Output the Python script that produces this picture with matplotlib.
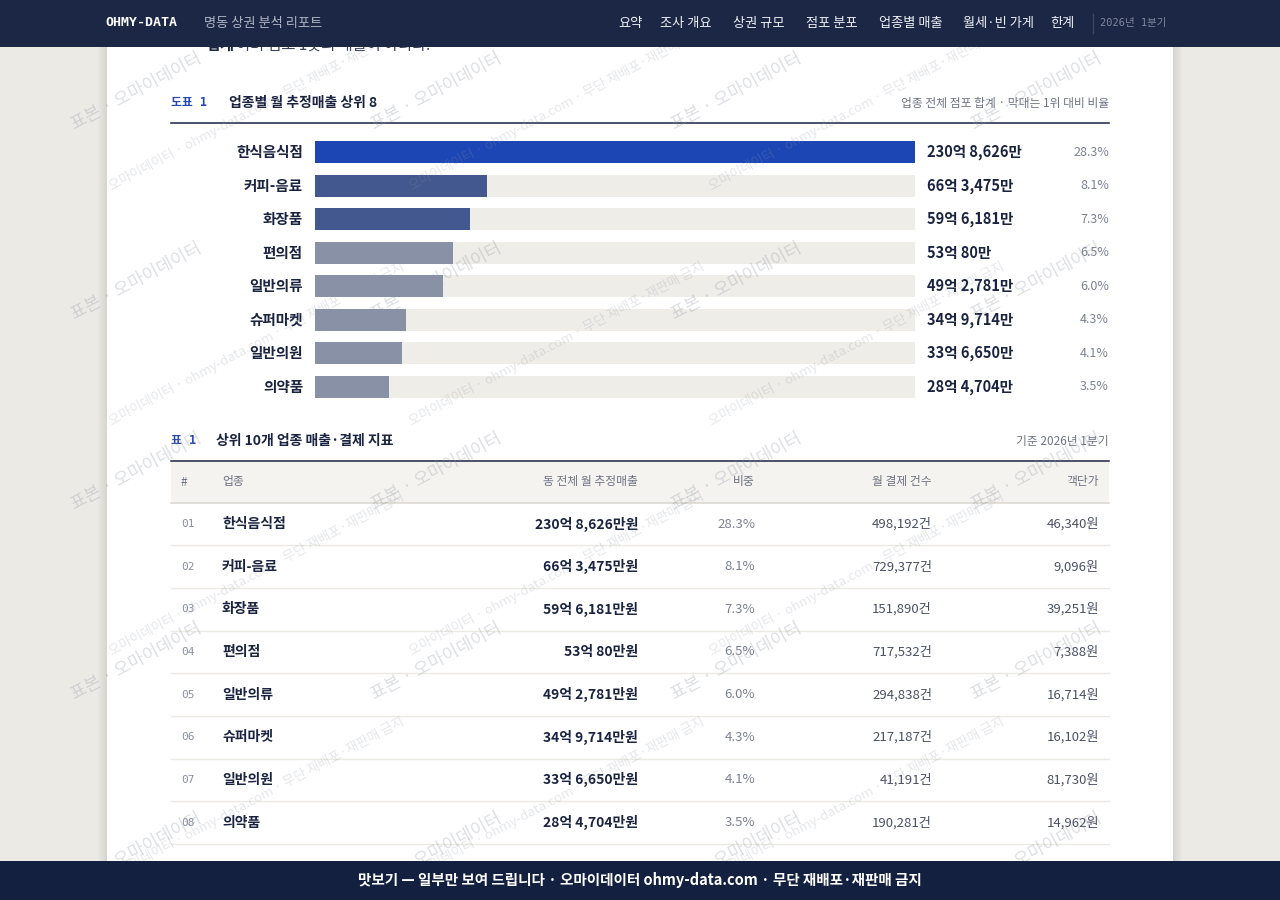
import matplotlib
matplotlib.use('Agg')
import matplotlib.pyplot as plt
from matplotlib.patches import Rectangle

plt.rcParams['font.family'] = ['Noto Sans CJK KR', 'DejaVu Sans']
MONO = ['DejaVu Sans Mono', 'Noto Sans CJK KR']

# 데이터
categories = ['한식음식점', '커피-음료', '화장품', '편의점', '일반의류', '슈퍼마켓', '일반의원', '의약품']
sales_eok = [230.8626, 66.3475, 59.6181, 53.0080, 49.2781, 34.9714, 33.6650, 28.4704]
sales_labels = ['230억 8,626만', '66억 3,475만', '59억 6,181만', '53억 80만',
                '49억 2,781만', '34억 9,714만', '33억 6,650만', '28억 4,704만']
share_pct = [28.3, 8.1, 7.3, 6.5, 6.0, 4.3, 4.1, 3.5]
payments = [498192, 729377, 151890, 717532, 294838, 217187, 41191, 190281]
unit_price = [46340, 9096, 39251, 7388, 16714, 16102, 81730, 14962]

nav_items = ['요약', '조사 개요', '상권 규모', '점포 분포', '업종별 매출', '월세·빈 가게', '한계']
table_cols = ['#', '업종', '동 전체 월 추정매출', '비중', '월 결제 건수', '객단가']

# 색
NAVY = '#1B2745'
FOOT = '#13203F'
INK = '#1A2340'
GRAY = '#6E7384'
BLUE = '#2447B0'
TRACK = '#EFEDE8'

fig = plt.figure(figsize=(12.8, 9), dpi=100)
fig.patch.set_facecolor('#ECEAE5')
ax = fig.add_axes([0, 0, 1, 1])
ax.set_xlim(0, 1280)
ax.set_ylim(900, 0)
ax.axis('off')

# 페이지 + 그림자
ax.add_patch(Rectangle((107, 0), 1066, 900, fc='white', lw=0))
for i in range(1, 10):
    a = 0.010 * (10 - i)
    ax.add_patch(Rectangle((107 - i, 0), 1, 900, fc='black', alpha=a, lw=0))
    ax.add_patch(Rectangle((1173 + i - 1, 0), 1, 900, fc='black', alpha=a, lw=0))

# 네비 아래로 잘린 본문 한 줄
ax.text(206, 45, '합계', fontsize=11, fontweight='bold', color=INK, va='center')
ax.text(236, 45, '이며 점포 1곳의 매출이 아니다.', fontsize=11, color='#3A4258', va='center')

# ---- 도표 1 ----
ax.text(171, 103, '도표 1', family=MONO, fontsize=8.5, color=BLUE, va='center', fontweight='bold')
ax.text(229, 103, '업종별 월 추정매출 상위 8', fontsize=10, fontweight='bold', color=INK, va='center')
ax.text(1109, 103, '업종 전체 점포 합계 · 막대는 1위 대비 비율', fontsize=8.5, color=GRAY,
        va='center', ha='right')
ax.plot([171, 1109], [123, 123], color=INK, lw=1.1)

row0, step = 152, 33.57
top_px = row0 - step / 2
bot_px = row0 + 7 * step + step / 2
axb = fig.add_axes([315 / 1280, 1 - bot_px / 900, 600 / 1280, (bot_px - top_px) / 900])
axb.patch.set_alpha(0)
n = len(categories)
vmax = max(sales_eok)
colors = ['#1D46B5' if i == 0 else '#42588E' if i < 3 else '#8891A6' for i in range(n)]
axb.barh(range(n), [vmax] * n, height=0.655, color=TRACK, lw=0)
axb.barh(range(n), sales_eok, height=0.655, color=colors, lw=0)
axb.set_xlim(0, vmax)
axb.set_ylim(n - 0.5, -0.5)
axb.axis('off')

for i in range(n):
    y = row0 + i * step
    ax.text(303, y, categories[i], fontsize=10.5, color=INK, ha='right', va='center', fontweight='semibold')
    ax.text(927, y, sales_labels[i], fontsize=10.5, color=INK, va='center', fontweight='bold')
    ax.text(1109, y, f'{share_pct[i]:.1f}%', fontsize=9, color='#7C8192', ha='right', va='center')

# ---- 표 1 ----
ax.text(171, 441, '표 1', family=MONO, fontsize=8.5, color=BLUE, va='center', fontweight='bold')
ax.text(216, 441, '상위 10개 업종 매출·결제 지표', fontsize=10, fontweight='bold', color=INK, va='center')
ax.text(1109, 441, '기준 2026년 1분기', fontsize=8.5, color=GRAY, va='center', ha='right')
ax.plot([171, 1109], [461, 461], color=INK, lw=1.1)
ax.add_patch(Rectangle((171, 462), 938, 41, fc='#F4F3EF', lw=0))
ax.plot([171, 1109], [503, 503], color='#DCD9D1', lw=1.2)

col_x = [181, 222, 638, 755, 932, 1099]
col_ha = ['left', 'left', 'right', 'right', 'right', 'right']
for c, x, h in zip(table_cols, col_x, col_ha):
    ax.text(x, 482, c, fontsize=8.5, color=GRAY, ha=h, va='center')

t0, tstep = 524, 42.65
for i in range(n):
    y = t0 + i * tstep
    ax.text(col_x[0], y, f'{i + 1:02d}', family=MONO, fontsize=8, color='#8A90A0', va='center')
    ax.text(col_x[1], y, categories[i], fontsize=10, color=INK, va='center', fontweight='bold')
    ax.text(col_x[2], y, sales_labels[i] + '원', fontsize=10, color=INK, va='center',
            ha='right', fontweight='bold')
    ax.text(col_x[3], y, f'{share_pct[i]:.1f}%', fontsize=9.5, color='#7C8192', va='center', ha='right')
    ax.text(col_x[4], y, f'{payments[i]:,}건', fontsize=9.5, color='#4A5064', va='center', ha='right')
    ax.text(col_x[5], y, f'{unit_price[i]:,}원', fontsize=9.5, color='#4A5064', va='center', ha='right')
    ax.plot([171, 1109], [y + tstep / 2, y + tstep / 2], color='#ECEAE4', lw=1)

# ---- 워터마크 ----
wm = fig.add_axes([0, 0, 1, 1], zorder=2)
wm.set_xlim(0, 1280)
wm.set_ylim(900, 0)
wm.axis('off')
wm.patch.set_alpha(0)
wm_a = '표본 · 오마이데이터'
wm_b = '오마이데이터 · ohmy-data.com · 무단 재배포·재판매 금지'
for gx in [75, 375, 675, 975]:
    for gy in [130, 320, 510, 700, 890]:
        wm.text(gx, gy, wm_a, fontsize=12.5, color='#8E94A2', alpha=0.3, rotation=28,
                rotation_mode='anchor', ha='left', va='baseline', clip_on=True)
for gx in [112, 412, 712]:
    for gy in [190, 425, 655, 880]:
        wm.text(gx, gy, wm_b, fontsize=9.5, color='#8E94A2', alpha=0.22, rotation=28,
                rotation_mode='anchor', ha='left', va='baseline', clip_on=True)

# ---- 상단 네비 / 하단 바 ----
top = fig.add_axes([0, 0, 1, 1], zorder=3)
top.set_xlim(0, 1280)
top.set_ylim(900, 0)
top.axis('off')
top.patch.set_alpha(0)
top.add_patch(Rectangle((0, 0), 1280, 47, fc=NAVY, lw=0))
top.text(105, 23, 'OHMY-DATA', family='DejaVu Sans Mono', fontweight='bold', fontsize=9.5,
         color='white', va='center')
top.text(204, 23, '명동 상권 분석 리포트', fontsize=9.5, color='#AEB4C4', va='center')
nav_x = [618, 660, 733, 806, 879, 963, 1050]
for label, x in zip(nav_items, nav_x):
    top.text(x, 23, label, fontsize=9.5, color='#EEF0F5', va='center')
top.plot([1093, 1093], [14, 33], color='#3A4664', lw=1)
top.text(1100, 23, '2026년 1분기', family=MONO, fontsize=7.5, color='#7F889E', va='center', clip_on=True)
top.add_patch(Rectangle((1173, 0), 107, 47, fc=NAVY, lw=0, zorder=5))

top.add_patch(Rectangle((0, 861), 1280, 39, fc=FOOT, lw=0))
top.text(640, 880, '맛보기 — 일부만 보여 드립니다 · 오마이데이터 ohmy-data.com · 무단 재배포·재판매 금지',
         fontsize=10.5, fontweight='bold', color='white', ha='center', va='center')

fig.savefig('out.png', dpi=100)
